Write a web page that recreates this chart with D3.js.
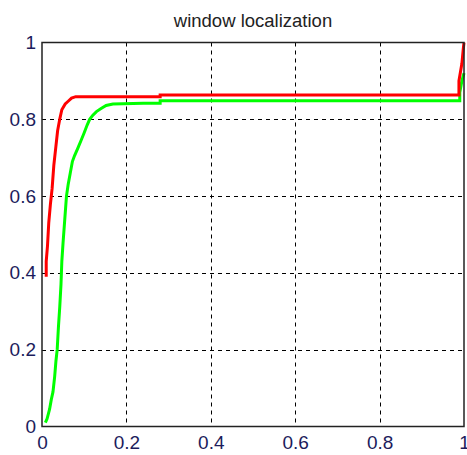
<!DOCTYPE html>
<html>
<head>
<meta charset="utf-8">
<script src="https://cdn.jsdelivr.net/npm/d3@7"></script>
<style>
  body { margin: 0; background: #fff; }
  svg text { font-family: "Liberation Sans", Arial, sans-serif; }
</style>
</head>
<body>
<div id="chart"></div>
<script>
// data
var xTicks = [0, 0.2, 0.4, 0.6, 0.8, 1];
var yTicks = [0, 0.2, 0.4, 0.6, 0.8, 1];
var tickLabels = ["0", "0.2", "0.4", "0.6", "0.8", "1"];

var redX = [0.01, 0.01, 0.013, 0.016, 0.02, 0.024, 0.028, 0.033, 0.037, 0.042, 0.047, 0.055, 0.062, 0.07, 0.08, 0.28, 0.28, 0.988, 0.988, 0.995, 0.998, 1.0];
var redY = [0.39, 0.43, 0.47, 0.53, 0.58, 0.62, 0.68, 0.73, 0.77, 0.80, 0.825, 0.84, 0.847, 0.855, 0.859, 0.859, 0.863, 0.863, 0.90, 0.945, 0.98, 1.0];

var greenX = [0.008, 0.012, 0.018, 0.022, 0.026, 0.03, 0.033, 0.036, 0.039, 0.042, 0.045, 0.047, 0.05, 0.054, 0.058, 0.062, 0.067, 0.072, 0.077, 0.085, 0.093, 0.1, 0.107, 0.113, 0.12, 0.129, 0.14, 0.152, 0.168, 0.24, 0.28, 0.28, 0.99, 0.99, 0.995, 1.0];
var greenY = [0.01, 0.02, 0.045, 0.07, 0.09, 0.13, 0.17, 0.2, 0.26, 0.31, 0.37, 0.43, 0.48, 0.54, 0.6, 0.63, 0.66, 0.69, 0.705, 0.725, 0.746, 0.765, 0.785, 0.8, 0.81, 0.82, 0.828, 0.836, 0.84, 0.842, 0.842, 0.848, 0.848, 0.87, 0.9, 0.92];

var width = 467, height = 455;
var margin = {left: 42, right: 3, top: 42.5, bottom: 28.5};

var svg = d3.select("#chart").append("svg")
    .attr("width", width)
    .attr("height", height);

var x = d3.scaleLinear().domain([0, 1]).range([margin.left, width - margin.right]);
var y = d3.scaleLinear().domain([0, 1]).range([height - margin.bottom, margin.top]);

// dashed grid
svg.append("g").selectAll("line")
    .data(xTicks.slice(1, -1))
    .enter().append("line")
    .attr("x1", function(d) { return Math.round(x(d)) + 0.5; })
    .attr("x2", function(d) { return Math.round(x(d)) + 0.5; })
    .attr("y1", y(1)).attr("y2", y(0))
    .attr("stroke", "#000").attr("stroke-dasharray", "4,4");

svg.append("g").selectAll("line")
    .data(yTicks.slice(1, -1))
    .enter().append("line")
    .attr("y1", function(d) { return Math.round(y(d)) + 0.5; })
    .attr("y2", function(d) { return Math.round(y(d)) + 0.5; })
    .attr("x1", x(0)).attr("x2", x(1))
    .attr("stroke", "#000").attr("stroke-dasharray", "4,4");

// curves
var line = d3.line()
    .x(function(d) { return x(d[0]); })
    .y(function(d) { return y(d[1]); });

svg.append("path")
    .datum(d3.zip(greenX, greenY))
    .attr("d", line)
    .attr("fill", "none")
    .attr("stroke", "#00ff00")
    .attr("stroke-width", 3);

svg.append("path")
    .datum(d3.zip(redX, redY))
    .attr("d", line)
    .attr("fill", "none")
    .attr("stroke", "#ff0000")
    .attr("stroke-width", 3);

// box
svg.append("rect")
    .attr("x", x(0)).attr("y", y(1))
    .attr("width", x(1) - x(0)).attr("height", y(0) - y(1))
    .attr("fill", "none").attr("stroke", "#222").attr("stroke-width", 1.5);

// axes
var xAxis = svg.append("g")
    .attr("transform", "translate(0," + y(0) + ")")
    .call(d3.axisBottom(x).tickValues(xTicks)
        .tickFormat(function(d, i) { return tickLabels[i]; })
        .tickSize(0).tickPadding(9));
xAxis.select(".domain").remove();

var yAxis = svg.append("g")
    .attr("transform", "translate(" + x(0) + ",0)")
    .call(d3.axisLeft(y).tickValues(yTicks)
        .tickFormat(function(d, i) { return tickLabels[i]; })
        .tickSize(0).tickPadding(6));
yAxis.select(".domain").remove();

svg.selectAll(".tick text")
    .attr("font-size", 19)
    .attr("fill", "#1c1c5c");

// title
svg.append("text")
    .attr("x", 253)
    .attr("y", 27)
    .attr("text-anchor", "middle")
    .attr("font-size", 18.5)
    .attr("fill", "#222")
    .text("window localization");
</script>
</body>
</html>
